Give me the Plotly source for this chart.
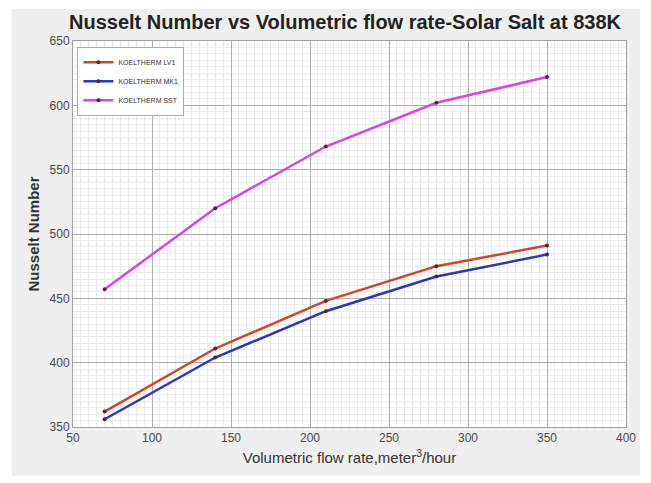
import plotly.graph_objects as go

# Volumetric flow rate (m^3/hour)
flow_rate = [70, 140, 210, 280, 350]

# Nusselt number for each heat transfer fluid
nu_lv1 = [362, 411, 448, 475, 491]
nu_mk1 = [356, 404, 440, 467, 484]
nu_sst = [457, 520, 568, 602, 622]

series_names = ["KOELTHERM LV1", "KOELTHERM MK1", "KOELTHERM SST"]
series_colors = ["#d2452a", "#2b35c4", "#dc45dc"]

x_ticks = [50, 100, 150, 200, 250, 300, 350, 400]
y_ticks = [350, 400, 450, 500, 550, 600, 650]

FONT = "Liberation Sans Narrow, Arial Narrow, Liberation Sans, Arial, sans-serif"

fig = go.Figure()
for name, ys, color in zip(series_names, [nu_lv1, nu_mk1, nu_sst], series_colors):
    fig.add_trace(go.Scatter(
        x=flow_rate, y=ys, name=name, mode="lines+markers",
        line=dict(color=color, width=2.5),
        marker=dict(color="#552244", size=4, symbol="circle"),
    ))

# grey figure panel with a white axes area (drawn as shapes beneath the grid)
fig.add_shape(type="rect", xref="paper", yref="paper", layer="below",
              x0=-0.111, x1=1.025, y0=-0.126, y1=1.083,
              fillcolor="#efefef", line=dict(width=0))
fig.add_shape(type="rect", xref="paper", yref="paper", layer="below",
              x0=0, x1=1, y0=0, y1=1,
              fillcolor="white", line=dict(width=0))

axis_common = dict(
    showline=True, linecolor="#a0a0a0", linewidth=1, mirror=True,
    showgrid=True, gridcolor="#b0b0b0", gridwidth=1,
    ticks="", zeroline=False,
    tickfont=dict(family=FONT, size=12, color="#4a4a4a"),
)

fig.update_xaxes(
    range=[50, 400], tickvals=x_ticks, ticktext=[str(v) for v in x_ticks],
    minor=dict(dtick=5, showgrid=True, gridcolor="#ebebeb", gridwidth=1),
    title=dict(text="Volumetric flow rate,meter<sup>3</sup>/hour",
               font=dict(family=FONT, size=15, color="#333333"), standoff=8),
    **axis_common,
)
fig.update_yaxes(
    range=[350, 650], tickvals=y_ticks, ticktext=[str(v) for v in y_ticks],
    minor=dict(dtick=5, showgrid=True, gridcolor="#ebebeb", gridwidth=1),
    title=dict(text="<b>Nusselt Number</b>",
               font=dict(family=FONT, size=15, color="#333333"), standoff=6),
    **axis_common,
)

fig.update_layout(
    width=651, height=483,
    margin=dict(l=73, r=25, t=41, b=56),
    paper_bgcolor="white",
    plot_bgcolor="rgba(0,0,0,0)",
    title=dict(text="<b>Nusselt Number vs Volumetric flow rate-Solar Salt at 838K</b>",
               x=0.53, xanchor="center", y=0.955, yanchor="middle",
               font=dict(family=FONT, size=20, color="#222222")),
    legend=dict(x=0.008, y=0.985, xanchor="left", yanchor="top",
                bgcolor="white", bordercolor="#aaaaaa", borderwidth=1,
                font=dict(family=FONT, size=7, color="#333333"),
                tracegroupgap=0, itemwidth=30),
    showlegend=True,
)

fig.write_html("out.html")
